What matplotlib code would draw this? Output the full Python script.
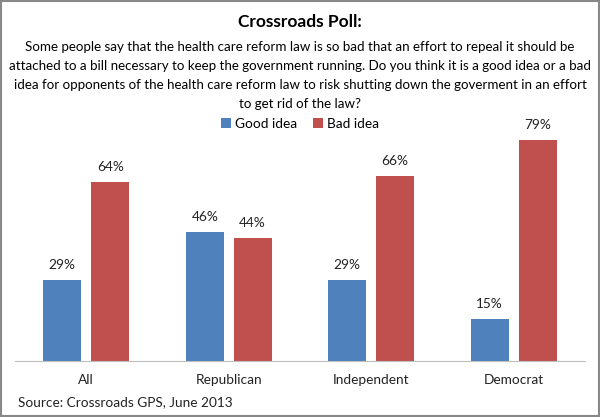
import matplotlib

matplotlib.use('Agg')
import matplotlib.pyplot as plt
import numpy as np

categories = ['All', 'Republican', 'Independent', 'Democrat']
good_idea = [29, 46, 29, 15]
bad_idea = [64, 44, 66, 79]
series_names = ['Good idea', 'Bad idea']
colors = ['#4F81BD', '#C0504D']

title = 'Crossroads Poll:'
question = ('Some people say that the health care reform law is so bad that an effort to repeal it should be\n'
            'attached to a bill necessary to keep the government running. Do you think it is a good idea or a bad\n'
            'idea for opponents of the health care reform law to risk shutting down the goverment in an effort\n'
            'to get rid of the law?')
source = 'Source: Crossroads GPS, June 2013'

plt.rcParams['font.family'] = ['Lato', 'DejaVu Sans']

fig = plt.figure(figsize=(6, 4.17), dpi=100)
W, H = 600, 417
# axes: x 15..585, baseline at y=361, top at y=109 (0..90 %)
ax = fig.add_axes([15 / W, 1 - 361 / H, 570 / W, (361 - 109) / H])

x = np.arange(len(categories))
width = 0.267
offset = 0.168
b1 = ax.bar(x - offset, good_idea, width, color=colors[0], label=series_names[0])
b2 = ax.bar(x + offset, bad_idea, width, color=colors[1], label=series_names[1])

for bars, vals in ((b1, good_idea), (b2, bad_idea)):
    for r, v in zip(bars, vals):
        ax.text(r.get_x() + r.get_width() / 2, v + 3.2, f'{v}%', ha='center', va='bottom',
                fontsize=9.8, color='#222222')

ax.set_xlim(-0.5, len(categories) - 0.5)
ax.set_ylim(0, 90)
ax.set_yticks([])
ax.set_xticks(x)
ax.set_xticklabels(categories, fontsize=9.8, color='#222222')
ax.tick_params(axis='x', length=0, pad=9)
for s in ['top', 'right', 'left']:
    ax.spines[s].set_visible(False)
ax.spines['bottom'].set_color('#BFBFBF')
ax.patch.set_alpha(0)

fig.text(0.5, 1 - 22 / H, title, ha='center', va='center', fontsize=12.5, fontweight='bold')
fig.text(0.5, 1 - 75.5 / H, question, ha='center', va='center', fontsize=9.6, linespacing=1.72)
fig.text(18 / W, 1 - 402 / H, source, ha='left', va='center', fontsize=9.8, color='#222222')

fig.legend(loc='center', bbox_to_anchor=(0.5, 1 - 124 / H), ncol=2, frameon=False,
           fontsize=9.8, handlelength=0.7, handleheight=0.7, handletextpad=0.3, columnspacing=1.2)

# outer frame
fig.patches.append(plt.Rectangle((0.002, 0.002), 0.996, 0.996, transform=fig.transFigure,
                                 fill=False, edgecolor='#888888', linewidth=1.5))

fig.savefig('out.png', dpi=100)
